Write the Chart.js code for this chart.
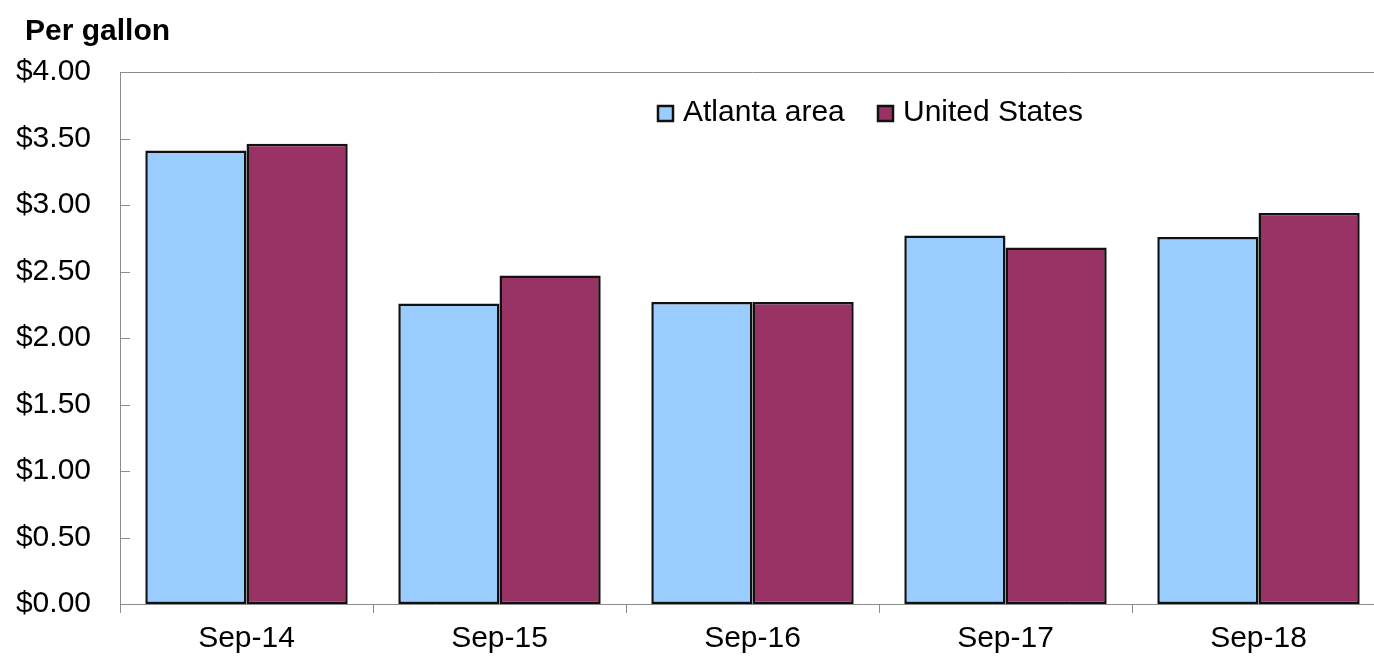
<!DOCTYPE html>
<html lang="en">
<head>
    <meta charset="UTF-8">
    <title>Gas prices per gallon</title>
    <style>
        html, body { margin: 0; padding: 0; background: #fff; overflow: hidden; }
        .chart-box { width: 1390px; height: 656px; position: relative; }
    </style>
</head>
<body>

    <div class="chart-box">
        <canvas id="myChart"></canvas>
    </div>

    <script src="https://cdn.jsdelivr.net/npm/chart.js"></script>

    <script>
        // Data
        var months = ['Sep-14', 'Sep-15', 'Sep-16', 'Sep-17', 'Sep-18'];
        var atlanta = [3.41, 2.26, 2.27, 2.77, 2.76];
        var unitedStates = [3.46, 2.47, 2.27, 2.68, 2.94];
        var yTicks = [0, 0.5, 1, 1.5, 2, 2.5, 3, 3.5, 4];

        var FONT = '"Liberation Sans", Arial, sans-serif';
        var frameColor = '#8c8c8c';

        // Frame, inner y ticks, unit label and legend
        var extras = {
            id: 'extras',
            afterDraw: function(chart) {
                var ctx = chart.ctx;
                var area = chart.chartArea;
                var y = chart.scales.y;

                ctx.save();
                ctx.strokeStyle = frameColor;
                ctx.lineWidth = 1;
                ctx.beginPath();
                ctx.moveTo(area.left, area.top + 0.5);
                ctx.lineTo(area.right, area.top + 0.5);
                ctx.lineTo(area.right + 0.5, area.bottom);
                ctx.stroke();

                // small ticks pointing into the plot
                yTicks.forEach(function(v) {
                    var py = Math.round(y.getPixelForValue(v)) + 0.5;
                    ctx.beginPath();
                    ctx.moveTo(area.left, py);
                    ctx.lineTo(area.left + 10, py);
                    ctx.stroke();
                });

                ctx.fillStyle = '#000';
                ctx.font = 'bold 30px ' + FONT;
                ctx.textAlign = 'left';
                ctx.textBaseline = 'alphabetic';
                ctx.fillText('Per gallon', 25, 40);

                // legend
                var legendX = [657, 877];
                ctx.font = '30px ' + FONT;
                ctx.textBaseline = 'middle';
                chart.data.datasets.forEach(function(ds, i) {
                    var x = legendX[i];
                    ctx.fillStyle = ds.backgroundColor;
                    ctx.fillRect(x, 105, 17, 17);
                    ctx.strokeStyle = '#111';
                    ctx.lineWidth = 2.5;
                    ctx.strokeRect(x + 1, 106, 15, 15);
                    ctx.fillStyle = '#000';
                    ctx.fillText(ds.label, x + 26, 113);
                });
                ctx.restore();
            }
        };

        function createChart() {
            var ctx = document.getElementById('myChart').getContext('2d');
            new Chart(ctx, {
                type: 'bar',
                data: {
                    labels: months,
                    datasets: [{
                        label: 'Atlanta area',
                        data: atlanta,
                        backgroundColor: '#99ccff',
                        borderColor: '#111',
                        borderWidth: 2.5,
                        borderSkipped: false,
                        categoryPercentage: 0.8,
                        barPercentage: 1.0
                    }, {
                        label: 'United States',
                        data: unitedStates,
                        backgroundColor: '#993366',
                        borderColor: '#111',
                        borderWidth: 2.5,
                        borderSkipped: false,
                        categoryPercentage: 0.8,
                        barPercentage: 1.0
                    }]
                },
                options: {
                    responsive: true,
                    maintainAspectRatio: false,
                    animation: false,
                    layout: { padding: { top: 72, right: 5, bottom: 0, left: 0 } },
                    plugins: {
                        legend: { display: false },
                        tooltip: { enabled: false }
                    },
                    scales: {
                        x: {
                            offset: true,
                            afterFit: function(s) { s.height = 52; },
                            border: { color: frameColor, width: 1 },
                            grid: {
                                offset: true,
                                drawOnChartArea: false,
                                color: frameColor,
                                tickLength: 9
                            },
                            ticks: {
                                color: '#000',
                                padding: 8,
                                font: { family: FONT, size: 30 }
                            }
                        },
                        y: {
                            min: 0,
                            max: 4,
                            afterFit: function(s) { s.width = 120; },
                            afterBuildTicks: function(s) {
                                s.ticks = yTicks.map(function(v) { return { value: v }; });
                            },
                            border: { color: frameColor, width: 1 },
                            grid: { display: false, drawTicks: false },
                            ticks: {
                                color: '#000',
                                padding: 29,
                                font: { family: FONT, size: 30 },
                                callback: function(v) { return '$' + Number(v).toFixed(2); }
                            }
                        }
                    }
                },
                plugins: [extras]
            });
        }

        createChart();
    </script>

</body>
</html>
